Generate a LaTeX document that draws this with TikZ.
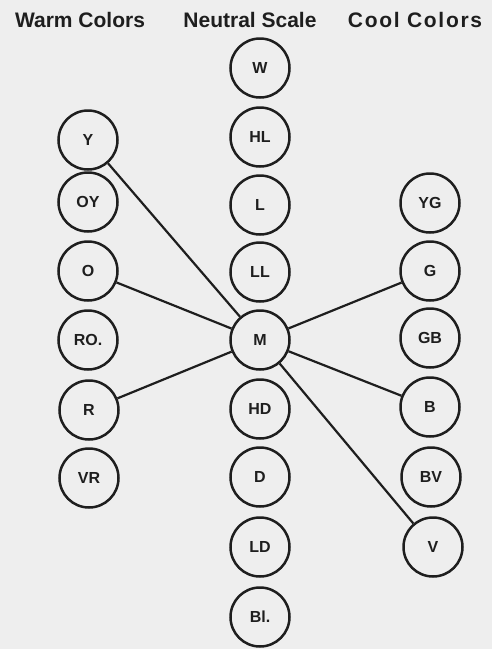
\documentclass[tikz,border=0pt]{standalone}
\usepackage{fontspec}
\setmainfont{Liberation Sans}
\begin{document}
\begin{tikzpicture}[x=1pt,y=-1pt,
  colorball/.style={circle,draw=ink,line width=2.5pt,minimum size=59pt,inner sep=0pt,
    font=\fontsize{16}{16}\selectfont\bfseries,text=ink},
  link/.style={draw=ink,line width=2.2pt},
  heading/.style={font=\fontsize{21}{21}\selectfont\bfseries,text=ink,anchor=base}]
\definecolor{ink}{HTML}{1E1E1E}
\definecolor{paper}{HTML}{EEEEEE}
\fill[paper] (0,0) rectangle (492,649);
\useasboundingbox (0,0) rectangle (492,649);
% headings
\node[heading] (hw) at (80,27) {Warm Colors};
\node[heading] (hn) at (250,27) {Neutral Scale};
\node[heading] (hc) at (415,27) {\addfontfeature{LetterSpace=8}Cool Colors};
% neutral scale
\node[colorball] (W)  at (260,68)  {W};
\node[colorball] (HL) at (260,137) {HL};
\node[colorball] (L)  at (260,205) {L};
\node[colorball] (LL) at (260,272) {LL};
\node[colorball] (M)  at (260,340) {M};
\node[colorball] (HD) at (260,409) {HD};
\node[colorball] (D)  at (260,477) {D};
\node[colorball] (LD) at (260,547) {LD};
\node[colorball] (Bl) at (260,617) {Bl.};
% warm colors
\node[colorball] (Y)  at (88,140) {Y};
\node[colorball] (OY) at (88,202) {OY};
\node[colorball] (O)  at (88,271) {O};
\node[colorball] (RO) at (88,340) {RO.};
\node[colorball] (R)  at (89,410) {R};
\node[colorball] (VR) at (89,478) {VR};
% cool colors
\node[colorball] (YG) at (430,203) {YG};
\node[colorball] (G)  at (430,271) {G};
\node[colorball] (GB) at (430,338) {GB};
\node[colorball] (B)  at (430,407) {B};
\node[colorball] (BV) at (431,477) {BV};
\node[colorball] (V)  at (433,547) {V};
% connectors
\draw[link] (M) -- (Y);
\draw[link] (M) -- (O);
\draw[link] (M) -- (R);
\draw[link] (M) -- (G);
\draw[link] (M) -- (B);
\draw[link] (M) -- (V);
\end{tikzpicture}
\end{document}
